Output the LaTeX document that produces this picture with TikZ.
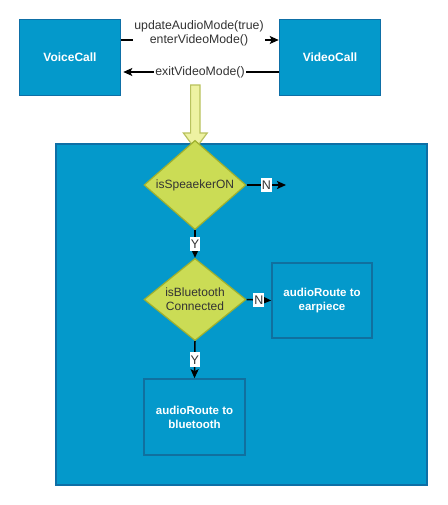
\documentclass[tikz,border=0pt]{standalone}
\usepackage{fontspec}
\setmainfont{Liberation Sans}
\usetikzlibrary{shapes.geometric,arrows.meta}
\definecolor{boxfill}{HTML}{0499CB}
\definecolor{boxline}{HTML}{0E6FA6}
\definecolor{innerline}{HTML}{10709F}
\definecolor{dfill}{HTML}{CBDC55}
\definecolor{dline}{HTML}{9FB02E}
\definecolor{yfill}{HTML}{EEF2A2}
\definecolor{yline}{HTML}{B9C25E}
\definecolor{txt}{HTML}{333333}
\tikzset{
  bluebox/.style={draw=boxline, fill=boxfill, line width=1.6pt, text=white,
    font=\fontsize{12}{14}\selectfont\bfseries, align=center, inner sep=0pt},
  innerbox/.style={draw=innerline, fill=boxfill, line width=1.6pt, text=white,
    font=\fontsize{11.5}{14}\selectfont\bfseries, align=center, inner sep=0pt},
  decision/.style={diamond, draw=dline, fill=dfill, line width=1.2pt, text=txt,
    font=\fontsize{12}{14}\selectfont, align=center, inner sep=0pt},
  conn/.style={line width=1.5pt, -{Stealth[length=9pt,width=8pt,inset=2pt]}},
  elabel/.style={fill=white, text=txt, font=\fontsize{12.3}{14}\selectfont,
    inner xsep=1pt, inner ysep=1pt, align=center},
  yn/.style={fill=white, text=txt, font=\fontsize{12.5}{14}\selectfont,
    inner xsep=1pt, inner ysep=3pt},
}
\begin{document}
\begin{tikzpicture}[x=1pt,y=-1pt]
\useasboundingbox (0,0) rectangle (447,505);
% panel
\node[draw=boxline, fill=boxfill, line width=1.6pt, minimum width=371, minimum height=341, inner sep=0pt] (panel) at (241.5,314.5) {};
% top boxes
\node[bluebox, minimum width=101, minimum height=76] (vc) at (70,57.5) {VoiceCall};
\node[bluebox, minimum width=101, minimum height=76] (vid) at (330,57.5) {VideoCall};
\draw[conn] ([yshift=17.5pt]vc.east) -- ([yshift=17.5pt]vid.west)
  node[elabel, midway, yshift=7pt, xshift=-1pt] {updateAudioMode(true)\\enterVideoMode()};
\draw[conn, shorten >=2pt] ([yshift=-14.5pt]vid.west) -- ([yshift=-14.5pt]vc.east)
  node[elabel, midway] {exitVideoMode()};
% block arrow
\draw[yline, fill=yfill, line width=1.2pt, line join=miter]
  (190.6,85) -- (200,85) -- (200,133) -- (207.2,133) -- (195.3,149) -- (183.4,133) -- (190.6,133) -- cycle;
% decisions
\node[decision, minimum width=102, minimum height=70] (d1) at (195,185) {isSpeaekerON};
\node[decision, minimum width=102, minimum height=80] (d2) at (195,299.5) {isBluetooth\\Connected};
\coordinate (nend) at (286,185);
\node[innerbox, minimum width=100, minimum height=75] (ear) at (322,300.5) {audioRoute to\\earpiece};
\node[innerbox, minimum width=101, minimum height=76] (bt) at (194.5,417) {audioRoute to\\bluetooth};
\draw[conn] (d1.east) -- (nend) node[yn, midway] {N};
\draw[conn] (d1.south) -- (d2.north) node[yn, midway] {Y};
\draw[conn] (d2.east) -- (ear.west) node[yn, midway] {N};
\draw[conn] (d2.south) -- (bt.north) node[yn, midway] {Y};
\end{tikzpicture}
\end{document}
